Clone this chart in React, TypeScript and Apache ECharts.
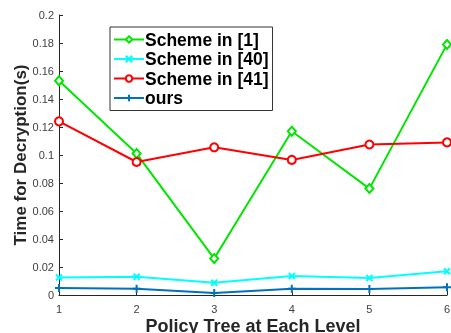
import { useEffect, useRef } from "react";
import * as echarts from "echarts";

const levels = [1, 2, 3, 4, 5, 6];
const scheme1 = [0.153, 0.101, 0.026, 0.117, 0.076, 0.179];
const scheme40 = [0.0125, 0.013, 0.0088, 0.0136, 0.0122, 0.017];
const scheme41 = [0.124, 0.095, 0.1055, 0.0965, 0.1075, 0.109];
const ours = [0.005, 0.0044, 0.0015, 0.0044, 0.0043, 0.0055];
const yTicks = [0, 0.02, 0.04, 0.06, 0.08, 0.1, 0.12, 0.14, 0.16, 0.18, 0.2];

const X_PATH = "path://M0,0L10,10M10,0L0,10";
const PLUS_PATH = "path://M5,0L5,10M0,5L10,5";

export default function App() {
  const ref = useRef<HTMLDivElement>(null);
  useEffect(() => {
    if (!ref.current) return;
    const chart = echarts.init(ref.current, null, { renderer: "svg" });
    const pair = (vals: number[]) => levels.map((l, i) => [l, vals[i]]);
    const font = "'Liberation Sans', Arial, sans-serif";
    const mk = (name: string, vals: number[], color: string, symbol: string, size: any) => ({
      name,
      type: "line",
      data: pair(vals),
      symbol,
      symbolSize: size,
      showAllSymbol: true,
      lineStyle: { color, width: 2 },
      itemStyle: { color: "#fff", borderColor: color, borderWidth: 2 },
      color,
    });
    chart.setOption({
      animation: false,
      textStyle: { fontFamily: font },
      grid: { left: 59, right: 4, top: 15, bottom: 38, outerBoundsMode: "none", containLabel: false },
      legend: {
        left: 110,
        top: 27,
        orient: "vertical",
        itemWidth: 30,
        itemHeight: 8,
        itemGap: 0.5,
        padding: [3, 4, 3, 3],
        backgroundColor: "#fff",
        borderColor: "#333",
        borderWidth: 1,
        borderRadius: 0,
        textStyle: { fontFamily: font, fontWeight: "bold", fontSize: 17.5, color: "#000", padding: [0, 0, 0, -4], lineHeight: 19 },
        data: ["Scheme in [1]", "Scheme in [40]", "Scheme in [41]", "ours"],
      },
      xAxis: {
        type: "value",
        min: 1,
        max: 6,
        interval: 1,
        name: "Policy Tree at Each Level",
        nameLocation: "middle",
        nameGap: 22,
        nameMoveOverlap: false,
        nameTextStyle: { fontFamily: font, fontWeight: "bold", fontSize: 18, color: "#262626" },
        axisLine: { lineStyle: { color: "#262626", width: 1 } },
        axisTick: { inside: true, length: 4, lineStyle: { color: "#262626" } },
        axisLabel: { fontSize: 11, color: "#404040", margin: 8, fontFamily: font },
        splitLine: { show: false },
      },
      yAxis: {
        type: "value",
        min: 0,
        max: 0.2,
        interval: 0.02,
        name: "Time for Decryption(s)",
        nameLocation: "middle",
        nameGap: 30,
        nameMoveOverlap: false,
        nameTextStyle: { fontFamily: font, fontWeight: "bold", fontSize: 17, color: "#262626" },
        axisLine: { show: true, lineStyle: { color: "#262626", width: 1 } },
        axisTick: { show: true, inside: true, length: 4, lineStyle: { color: "#262626" } },
        axisLabel: {
          fontSize: 11,
          color: "#404040",
          margin: 5,
          fontFamily: font,
          formatter: (v: number) => {
            const t = yTicks.find((k) => Math.abs(k - v) < 1e-9);
            return t === undefined ? "" : String(+t.toFixed(2));
          },
        },
        splitLine: { show: false },
      },
      series: [
        mk("Scheme in [1]", scheme1, "#00e600", "diamond", [8, 9]),
        mk("Scheme in [40]", scheme40, "#00ffff", X_PATH, 6),
        mk("Scheme in [41]", scheme41, "#ff0000", "circle", 8),
        mk("ours", ours, "#0072bd", PLUS_PATH, 8),
      ],
    });
    return () => chart.dispose();
  }, []);
  return <div ref={ref} style={{ position: "fixed", left: 0, top: 0, width: 451, height: 333 }} />;
}
